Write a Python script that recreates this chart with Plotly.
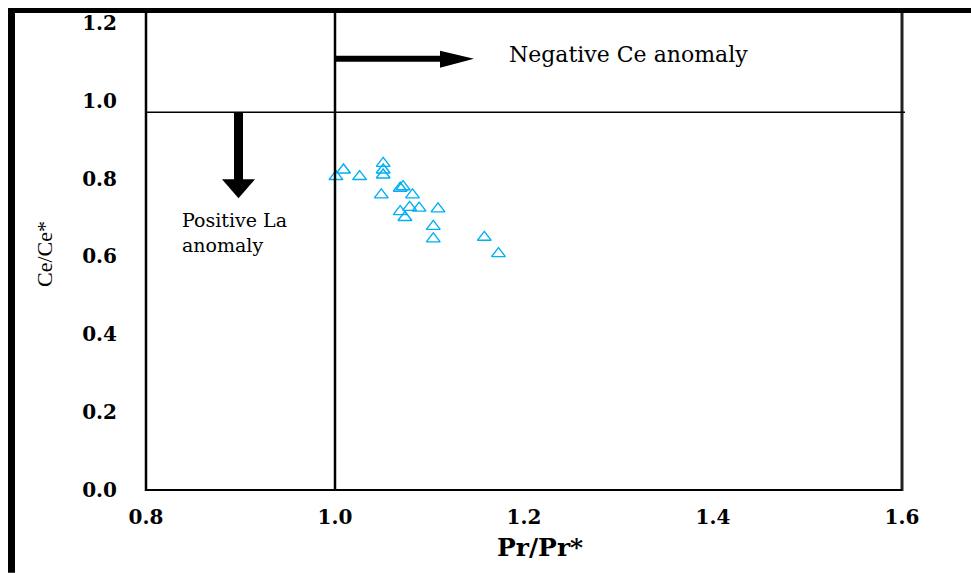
import plotly.graph_objects as go

# ---- data ----
pr_pr = [1.001, 1.009, 1.026, 1.051, 1.051, 1.051, 1.049, 1.069, 1.072, 1.082,
         1.069, 1.079, 1.089, 1.074, 1.109, 1.104, 1.104, 1.158, 1.173]
ce_ce = [0.805, 0.822, 0.805, 0.839, 0.822, 0.809, 0.758, 0.775, 0.779, 0.758,
         0.715, 0.726, 0.724, 0.700, 0.722, 0.677, 0.645, 0.649, 0.607]
x_ticks = [0.8, 1.0, 1.2, 1.4, 1.6]
y_ticks = [0.0, 0.2, 0.4, 0.6, 0.8, 1.0, 1.2]
x_tick_text = ["0.8", "1.0", "1.2", "1.4", "1.6"]
y_tick_text = ["0.0", "0.2", "0.4", "0.6", "0.8", "1.0", "1.2"]
threshold_y = 0.97
threshold_x = 1.0

W, H = 971, 573
# pixel mapping of the axes
X0PX, X1PX, XV0, XV1 = 146, 902, 0.8, 1.6
Y0PX, Y1PX, YV0, YV1 = 490, 99, 0.0, 1.0
xs = (X1PX - X0PX) / (XV1 - XV0)
ys = (Y0PX - Y1PX) / (YV1 - YV0)
L, R, T, B = 140, 908, 11, 494

def px2x(px):
    return XV0 + (px - X0PX) / xs

def py2y(py):
    return YV0 + (Y0PX - py) / ys

def px2paper(px):
    return (px - L) / (R - L)

def py2paper(py):
    return (B - py) / (B - T)

xr = [px2x(L), px2x(R)]
yr = [py2y(B), py2y(T)]

fig = go.Figure()
fig.add_trace(go.Scatter(
    x=pr_pr, y=ce_ce, mode="markers",
    marker=dict(symbol="triangle-up-open", size=12, color="#00b0f0",
                line=dict(width=1.4, color="#00b0f0")),
    showlegend=False, cliponaxis=False))

shapes = []
blk = "black"
# frame lines
shapes.append(dict(type="line", xref="x", yref="paper", x0=0.8, x1=0.8, y0=py2paper(491), y1=1, line=dict(color=blk, width=2.5)))
shapes.append(dict(type="line", xref="x", yref="paper", x0=threshold_x, x1=threshold_x, y0=py2paper(491), y1=1, line=dict(color=blk, width=2.5)))
shapes.append(dict(type="line", xref="x", yref="paper", x0=1.6, x1=1.6, y0=py2paper(491), y1=1, line=dict(color="#222", width=3)))
shapes.append(dict(type="line", xref="x", yref="y", x0=0.8, x1=1.6, y0=0, y1=0, line=dict(color=blk, width=2)))
shapes.append(dict(type="line", xref="x", yref="y", x0=0.8, x1=px2x(905), y0=threshold_y, y1=threshold_y, line=dict(color=blk, width=1.5)))

# right arrow (negative Ce anomaly)
ay = py2y(57)
shapes.append(dict(type="line", xref="x", yref="y", x0=threshold_x, x1=px2x(442), y0=ay, y1=ay, line=dict(color=blk, width=6)))
shapes.append(dict(type="path", xref="x", yref="y",
                   path=f"M {px2x(440)} {py2y(49)} L {px2x(474)} {ay} L {px2x(440)} {py2y(66)} Z",
                   fillcolor=blk, line=dict(color=blk, width=0)))
# down arrow (positive La anomaly)
ax = px2x(238.5)
shapes.append(dict(type="line", xref="x", yref="y", x0=ax, x1=ax, y0=threshold_y, y1=py2y(180), line=dict(color=blk, width=9)))
shapes.append(dict(type="path", xref="x", yref="y",
                   path=f"M {px2x(222)} {py2y(178)} L {ax} {py2y(197)} L {px2x(255)} {py2y(178)} Z",
                   fillcolor=blk, line=dict(color=blk, width=0)))

# thick image frame (left and top)
shapes.append(dict(type="rect", xref="paper", yref="paper", x0=px2paper(8), x1=px2paper(15),
                   y0=py2paper(573), y1=py2paper(6), fillcolor=blk, line=dict(width=0), layer="above"))
shapes.append(dict(type="rect", xref="paper", yref="paper", x0=px2paper(8), x1=px2paper(971),
                   y0=py2paper(11), y1=py2paper(6), fillcolor=blk, line=dict(width=0), layer="above"))

serif = "DejaVu Serif"
annotations = [
    dict(text="Negative Ce anomaly", x=px2x(507), y=py2y(53), xref="x", yref="y",
         xanchor="left", yanchor="middle", showarrow=False,
         font=dict(family=serif, size=22, color=blk)),
    dict(text="Positive La<br>anomaly", x=px2x(180), y=py2y(231), xref="x", yref="y",
         xanchor="left", yanchor="middle", align="left", showarrow=False,
         font=dict(family=serif, size=19, color=blk)),
    dict(text="<b>Pr/Pr*</b>", x=px2paper(540), y=py2paper(548), xref="paper", yref="paper",
         xanchor="center", yanchor="middle", showarrow=False,
         font=dict(family=serif, size=25, color=blk)),
    dict(text="Ce/Ce*", x=px2paper(45), y=py2paper(253), xref="paper", yref="paper",
         xanchor="center", yanchor="middle", showarrow=False, textangle=-90,
         font=dict(family="Liberation Serif", size=22, color=blk)),
]

fig.update_layout(
    width=W, height=H,
    margin=dict(l=L, r=W - R, t=T, b=H - B, pad=0),
    paper_bgcolor="white", plot_bgcolor="white",
    shapes=shapes, annotations=annotations,
    xaxis=dict(range=xr, tickvals=x_ticks, ticktext=[f"<b>{t}</b>" for t in x_tick_text],
               showgrid=False, zeroline=False, showline=False, ticks="",
               ticklabelstandoff=9,
               tickfont=dict(family=serif, size=20, color=blk)),
    yaxis=dict(range=yr, tickvals=y_ticks, ticktext=[f"<b>{t}</b>" for t in y_tick_text],
               showgrid=False, zeroline=False, showline=False, ticks="",
               ticklabelstandoff=22,
               tickfont=dict(family=serif, size=20, color=blk)),
)

fig.write_html("out.html")
